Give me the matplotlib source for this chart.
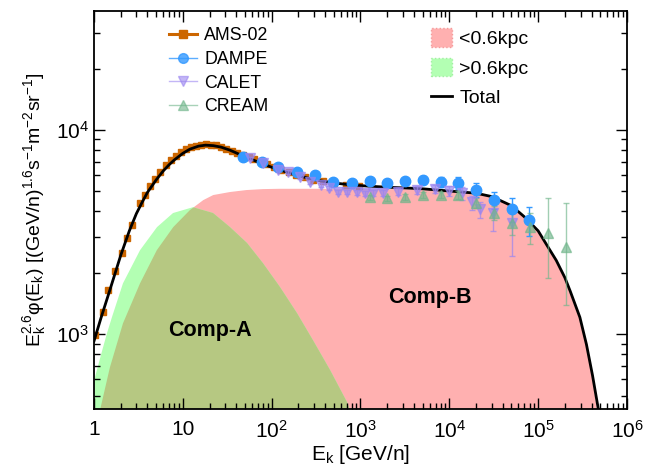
import numpy as np
import matplotlib
matplotlib.use("Agg")
import matplotlib.pyplot as plt
from matplotlib.lines import Line2D
from matplotlib.patches import Patch
from matplotlib.ticker import FixedLocator, LogLocator, NullFormatter

plt.rcParams['font.family'] = ['Liberation Sans', 'DejaVu Sans']
plt.rcParams['mathtext.default'] = 'regular'

# AMS-02
ams_e = [1.03, 1.26, 1.44, 1.72, 2.07, 2.36, 2.68, 3.30, 3.75, 4.3, 4.9, 5.6, 6.4, 7.3,
         8.3, 9.5, 10.8, 12.3, 14.0, 16.0, 18.3, 20.8, 23.7, 27, 31, 35.5, 41, 47, 55,
         64, 75, 89, 106, 128, 155, 190, 235, 295, 380, 500, 680, 950]
ams_f = [987, 1282, 1644, 2035, 2498, 2961, 3427, 4391, 4815, 5322, 5784, 6248, 6713, 7131,
         7503, 7828, 8060, 8246, 8387, 8480, 8507, 8480, 8405, 8275, 8106, 7939, 7735, 7549,
         7363, 7177, 6992, 6806, 6574, 6387, 6201, 6016, 5858, 5719, 5599, 5488, 5396, 5322]

# DAMPE
dampe_e = [47.9, 77.6, 117, 195, 309, 490, 794, 1290, 2000, 3160, 5010, 8130, 12600,
           20000, 31600, 51300, 79400]
dampe_f = [7374, 6962, 6591, 6229, 6016, 5553, 5506, 5599, 5506, 5617, 5691, 5562, 5497,
           5082, 4538, 4096, 3620]
dampe_err = [145, 135, 135, 125, 125, 135, 145, 160, 180, 225, 270, 315, 380,
             405, 450, 540, 585]

# CALET
calet_e = [57, 79, 117, 151, 209, 269, 355, 437, 562, 708, 912, 1120, 1380, 1780,
           2630, 4370, 6920, 10000, 13800, 18200, 22400, 30900, 51300]
calet_f = [7270, 6888, 6368, 6229, 5876, 5562, 5377, 5202, 4962, 4962, 4962, 4906, 4906, 4906,
           4998, 5091, 5137, 5044, 4906, 4437, 4096, 3921, 3500]
calet_lo = [145, 135, 125, 125, 125, 115, 115, 115, 115, 125, 135, 145, 155, 160,
            180, 205, 245, 290, 340, 360, 405, 720, 1080]
calet_hi = [145, 135, 125, 125, 125, 115, 115, 115, 115, 125, 135, 145, 155, 160,
            180, 205, 245, 290, 340, 315, 360, 540, 720]

# CREAM
cream_e = [1290, 2000, 3160, 5010, 8130, 12600, 20000, 31600, 51300, 81300, 129000, 206000]
cream_f = [4694, 4639, 4694, 4804, 4804, 4804, 4391, 3921, 3500, 3345, 3126, 2670]
cream_lo = [135, 135, 145, 160, 180, 205, 250, 315, 450, 585, 1244, 1283]
cream_hi = [135, 135, 145, 160, 180, 205, 250, 315, 450, 585, 1516, 1715]

# Total model
tot_e = [1.0, 1.2, 1.5, 2.0, 2.5, 3.0, 3.5, 4.0, 5.0, 6.0, 7.0, 8.0, 10, 12, 15, 18, 22, 27,
         34, 45, 60, 80, 110, 160, 250, 350, 500, 760, 1200, 2000, 3000, 5000, 10000,
         20000, 30000, 50000, 70000, 100000, 130000, 160000, 200000, 230000, 295000,
         350000, 410000, 478000, 550000]
tot_f = [925, 1202, 1631, 2434, 3208, 3895, 4446, 4952, 5691, 6295, 6759, 7131, 7689, 8060,
         8340, 8433, 8387, 8246, 7967, 7549, 7177, 6806, 6481, 6155, 5830, 5645, 5506, 5396,
         5313, 5248, 5211, 5155, 5027, 4906, 4722, 4262, 3757, 3208, 2661, 2298, 1892, 1622,
         1210, 890, 626, 425, 286]

# Comp-A (> 0.6 kpc)
a_e = [0.9, 1.0, 1.2, 1.4, 1.6, 2.12, 3.3, 5.12, 7.76, 13.0, 21.9, 34, 52.8, 80, 124, 193,
       292, 456, 707, 800, 1000]
a_f = [477, 591, 793, 1011, 1219, 1775, 2580, 3345, 3922, 4188, 3922, 3345, 2798, 2225, 1703,
       1268, 934, 666, 464, 399, 321]

# Comp-B (< 0.6 kpc)
b_e = [1.0, 1.17, 1.51, 2.12, 3.3, 5.1, 7.8, 12, 17, 22, 34, 52, 80, 123, 200, 500, 1000,
       3000, 10000, 20000, 30000, 50000, 70000, 100000, 130000, 160000, 200000, 230000,
       295000, 350000, 410000, 470000, 550000]
b_f = [277, 425, 687, 1130, 1775, 2580, 3345, 4051, 4538, 4804, 4971, 5082, 5137, 5155, 5155,
       5155, 5137, 5137, 5027, 4906, 4722, 4262, 3757, 3208, 2661, 2298, 1847, 1577, 1174,
       864, 599, 399, 252]

pink = '#ffb0b0'
green = '#b3ffb3'
olive = '#b6c882'

fig = plt.figure(figsize=(6.55, 4.70), dpi=100)
ax = fig.add_axes([0.1435, 0.1298, 0.8137, 0.8468])
ax.set_xscale('log')
ax.set_yscale('log')

pb = ax.fill_between(b_e, b_f, 10, color=pink, lw=0, zorder=1)
ax.fill_between(a_e, a_f, 10, color=green, lw=0, zorder=1.1)
pa = ax.fill_between(a_e, a_f, 10, color=olive, lw=0, zorder=1.2)
pa.set_clip_path(pb.get_paths()[0], transform=ax.transData)

ax.errorbar(ams_e, ams_f, fmt='s', color='#cc6600', ms=5, zorder=2)
ax.plot(tot_e, tot_f, color='black', lw=2, zorder=3)
ax.errorbar(dampe_e, dampe_f, yerr=dampe_err, fmt='o', color='#3399ff', ms=7.5,
            elinewidth=1, capsize=2.5, zorder=4)
ax.errorbar(calet_e, calet_f, yerr=[calet_lo, calet_hi], fmt='v', color='#9b86f0', ms=7,
            elinewidth=1, capsize=2.5, alpha=0.7, zorder=4)
ax.errorbar(cream_e, cream_f, yerr=[cream_lo, cream_hi], fmt='^', color='#6fb58a', ms=7,
            elinewidth=1, capsize=2.5, alpha=0.65, zorder=4)

ax.text(20, 1047, 'Comp-A', fontsize=15.5, fontweight='bold', ha='center', va='center', zorder=5)
ax.text(6000, 1518, 'Comp-B', fontsize=15.5, fontweight='bold', ha='center', va='center', zorder=5)

ax.set_xlim(1, 1e6)
ax.set_ylim(430, 38300)

xt = [1, 10, 1e2, 1e3, 1e4, 1e5, 1e6]
xl = ['1', '10', '$10^{2}$', '$10^{3}$', '$10^{4}$', '$10^{5}$', '$10^{6}$']
ax.xaxis.set_major_locator(FixedLocator(xt))
ax.set_xticklabels(xl)
ax.xaxis.set_minor_locator(LogLocator(base=10, subs=np.arange(2, 10), numticks=20))
ax.xaxis.set_minor_formatter(NullFormatter())
ax.yaxis.set_major_locator(FixedLocator([1e3, 1e4]))
ax.set_yticklabels(['$10^{3}$', '$10^{4}$'])
ax.yaxis.set_minor_locator(LogLocator(base=10, subs=np.arange(2, 10), numticks=20))
ax.yaxis.set_minor_formatter(NullFormatter())

ax.tick_params(which='both', direction='in', top=True, right=True, labelsize=15)
ax.tick_params(which='major', length=8, width=1)
ax.tick_params(which='minor', length=4, width=1)
ax.tick_params(axis='x', pad=8)
for s in ax.spines.values():
    s.set_linewidth(1.3)

ax.set_xlabel('E$_k$ [GeV/n]', fontsize=15, labelpad=1)
ax.set_ylabel('E$_k^{2.6}$φ(E$_k$) [(GeV/n)$^{1.6}$s$^{-1}$m$^{-2}$sr$^{-1}$]', fontsize=14,
              labelpad=6)

h1 = [Line2D([], [], color='#cc6600', marker='s', ms=6, lw=2.2),
      Line2D([], [], color='#3399ff', marker='o', ms=7, lw=1, alpha=0.8),
      Line2D([], [], color='#9b86f0', marker='v', ms=7, lw=1, alpha=0.6),
      Line2D([], [], color='#6fb58a', marker='^', ms=7, lw=1, alpha=0.6)]
leg1 = ax.legend(h1, ['AMS-02', 'DAMPE', 'CALET', 'CREAM'], loc='upper left',
                 bbox_to_anchor=(0.11, 1.0), frameon=False, fontsize=12.8,
                 handlelength=1.6, handletextpad=0.4, labelspacing=0.38)
ax.add_artist(leg1)

h2 = [Patch(facecolor=pink, edgecolor='#f59a9a', linestyle=':'),
      Patch(facecolor=green, edgecolor='#a0f0a0', linestyle=':'),
      Line2D([], [], color='black', lw=2)]
ax.legend(h2, ['<0.6kpc', '>0.6kpc', 'Total'], loc='upper left',
          bbox_to_anchor=(0.60, 1.0), frameon=False, fontsize=14,
          handlelength=1.08, handleheight=1.08, handletextpad=0.36, labelspacing=0.5)

fig.savefig('out.png', dpi=100)
